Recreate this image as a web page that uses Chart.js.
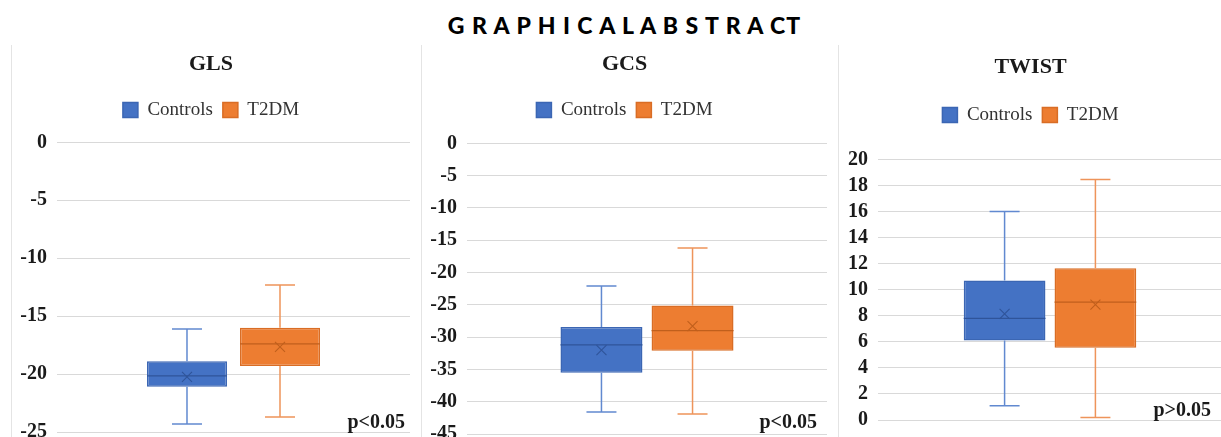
<!DOCTYPE html>
<html><head><meta charset="utf-8">
<script src="https://cdn.jsdelivr.net/npm/chart.js@4.4.1/dist/chart.umd.min.js"></script>
<style>
html,body{margin:0;padding:0;background:#fff;width:1221px;height:437px;overflow:hidden;position:relative;}
#main{position:absolute;left:0;top:11px;width:1249px;text-align:center;font-family:Lato,'Liberation Sans',sans-serif;font-weight:900;font-size:23px;color:#000;letter-spacing:1px;white-space:pre;}
.panel{position:absolute;border-left:1px solid #e4e4e4;height:420px;}
canvas{display:block;}
</style></head>
<body>
<div id="main">G R A P H I C A L A B S T R A CT</div>
<div class="panel" style="left:11px;top:45px;"><canvas id="c1" width="398" height="409"></canvas></div>
<div class="panel" style="left:421px;top:45px;"><canvas id="c2" width="405" height="411"></canvas></div>
<div class="panel" style="left:838px;top:45px;"><canvas id="c3" width="383" height="397"></canvas></div>
<script>
// ---- data: [min, q1, median, q3, max, mean] ----
const categories = [''];
const seriesNames = ['Controls', 'T2DM'];
const chartTitles = ['GLS', 'GCS', 'TWIST'];
const pValues = ['p<0.05', 'p<0.05', 'p>0.05'];

const glsControls = [-24.3, -21.1, -20.15, -18.9, -16.1, -20.25];
const glsT2DM     = [-23.7, -19.3, -17.4, -16.0, -12.3, -17.65];
const gcsControls = [-41.6, -35.5, -31.2, -28.45, -22.1, -32.0];
const gcsT2DM     = [-41.9, -32.1, -29.0, -25.1, -16.2, -28.3];
const twistControls = [1.1, 6.1, 7.8, 10.7, 16.0, 8.15];
const twistT2DM     = [0.2, 5.55, 9.05, 11.65, 18.45, 8.85];

const glsTicks = [0, -5, -10, -15, -20, -25];
const gcsTicks = [0, -5, -10, -15, -20, -25, -30, -35, -40, -45];
const twistTicks = [0, 2, 4, 6, 8, 10, 12, 14, 16, 18, 20];

// ---- styles ----
const SERIF = "'Liberation Serif', 'Times New Roman', serif";
const styles = [
  {bg: '#4472C4', border: '#3b66b3', whisker: '#6189d0', median: '#2f549a'},
  {bg: '#ED7D31', border: '#d96d25', whisker: '#ee945a', median: '#c05f1c'}
];

const boxExtras = {
  id: 'boxExtras',
  afterDatasetsDraw(chart) {
    const ctx = chart.ctx, ys = chart.scales.y;
    chart.data.datasets.forEach((ds, i) => {
      const meta = chart.getDatasetMeta(i);
      meta.data.forEach((bar, j) => {
        const s = ds.stats[j];
        const x = bar.x, hw = bar.width / 2, cap = 15;
        const py = v => ys.getPixelForValue(v);
        ctx.save();
        ctx.strokeStyle = ds.whiskerColor;
        ctx.lineWidth = 1.5;
        ctx.beginPath();
        ctx.moveTo(x, py(s[0])); ctx.lineTo(x, py(s[1]));
        ctx.moveTo(x, py(s[3])); ctx.lineTo(x, py(s[4]));
        ctx.moveTo(x - cap, py(s[0])); ctx.lineTo(x + cap, py(s[0]));
        ctx.moveTo(x - cap, py(s[4])); ctx.lineTo(x + cap, py(s[4]));
        ctx.stroke();
        ctx.strokeStyle = ds.medianColor;
        ctx.lineWidth = 1.3;
        ctx.beginPath();
        ctx.moveTo(x - hw, py(s[2])); ctx.lineTo(x + hw, py(s[2]));
        ctx.stroke();
        const my = py(s[5]), r = 5;
        ctx.lineWidth = 1.1;
        ctx.beginPath();
        ctx.moveTo(x - r, my - r); ctx.lineTo(x + r, my + r);
        ctx.moveTo(x + r, my - r); ctx.lineTo(x - r, my + r);
        ctx.stroke();
        ctx.restore();
      });
    });
  }
};

const pNote = {
  id: 'pNote',
  afterDraw(chart, args, opts) {
    const a = chart.chartArea, ctx = chart.ctx;
    ctx.save();
    ctx.font = 'bold 20px ' + SERIF;
    ctx.fillStyle = '#1a1a1a';
    ctx.textAlign = 'right';
    ctx.textBaseline = 'alphabetic';
    ctx.fillText(opts.text, a.right + opts.dx, a.bottom + opts.dy);
    ctx.restore();
  }
};

function makeChart(id, title, statsA, statsB, ticks, min, max, pText, lay) {
  const datasets = [statsA, statsB].map((st, k) => ({
    label: seriesNames[k],
    data: [[st[1], st[3]]],
    stats: [st],
    backgroundColor: styles[k].bg,
    borderColor: styles[k].border,
    borderWidth: 1.5,
    borderSkipped: false,
    whiskerColor: styles[k].whisker,
    medianColor: styles[k].median,
    categoryPercentage: lay.cat,
    barPercentage: lay.bar
  }));
  return new Chart(document.getElementById(id), {
    type: 'bar',
    data: {labels: categories, datasets},
    plugins: [boxExtras, pNote],
    options: {
      responsive: false,
      animation: false,
      devicePixelRatio: 1,
      layout: {padding: 0},
      plugins: {
        title: {display: true, text: title, color: '#1a1a1a',
          font: {family: SERIF, size: 22, weight: 'bold'},
          padding: {top: lay.tTop, bottom: lay.tBottom}},
        legend: {display: true, position: 'top',
          labels: {boxWidth: 15, boxHeight: 15, padding: 10, color: '#333',
            font: {family: SERIF, size: 19}}},
        subtitle: {display: true, text: '', weight: 500, padding: 0,
          font: {size: lay.gap, lineHeight: 1}},
        tooltip: {enabled: false},
        pNote: {text: pText, dx: lay.pdx, dy: lay.pdy}
      },
      scales: {
        x: {display: false},
        y: {
          min, max,
          afterBuildTicks: s => { s.ticks = ticks.map(v => ({value: v})); },
          afterFit: s => { s.width = lay.yw; },
          grid: {color: '#d9d9d9', lineWidth: 1, drawTicks: false},
          border: {display: false},
          ticks: {padding: 10, color: '#1a1a1a', font: {family: SERIF, size: 20, weight: 'bold'}}
        }
      }
    }
  });
}

makeChart('c1', chartTitles[0], glsControls, glsT2DM, glsTicks, -25, 0, pValues[0],
  {cat: 0.527, bar: 0.86, tTop: 6, tBottom: 13, gap: 13, yw: 45, pdx: -5, pdy: -4});
makeChart('c2', chartTitles[1], gcsControls, gcsT2DM, gcsTicks, -45, 0, pValues[1],
  {cat: 0.506, bar: 0.9, tTop: 6, tBottom: 13, gap: 14, yw: 45, pdx: -10, pdy: -6});
makeChart('c3', chartTitles[2], twistControls, twistT2DM, twistTicks, 0, 20, pValues[2],
  {cat: 0.528, bar: 0.9, tTop: 9, tBottom: 15, gap: 25, yw: 39, pdx: -11, pdy: -4});
</script>
</body></html>
